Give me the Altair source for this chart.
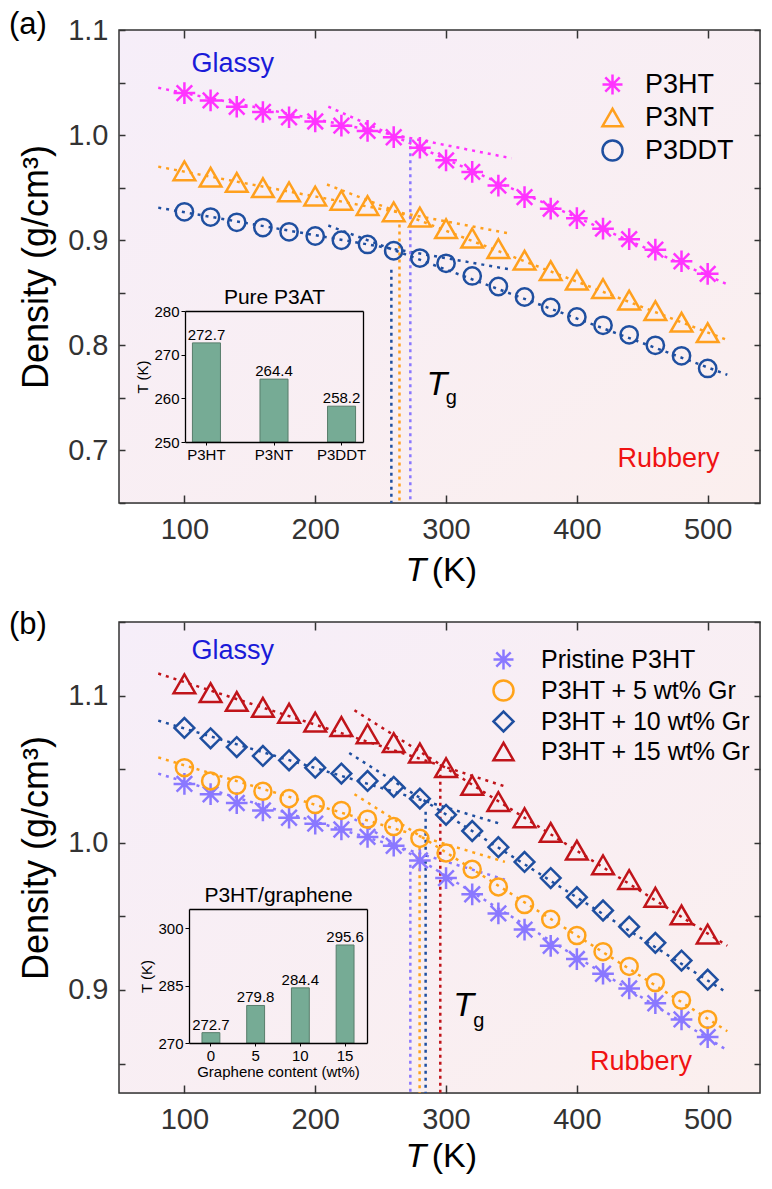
import altair as alt
import pandas as pd

FONT = "Liberation Sans"
ASTERISK = "M-1,0L1,0M0,-1L0,1M-0.72,-0.72L0.72,0.72M-0.72,0.72L0.72,-0.72"

temps = [100, 120, 140, 160, 180, 200, 220, 240, 260, 280, 300,
         320, 340, 360, 380, 400, 420, 440, 460, 480, 500]
x_ticks = [100, 200, 300, 400, 500]

# ---------------- panel (a) data ----------------
a_series = ["P3HT", "P3NT", "P3DDT"]
a_p3ht = [1.040, 1.033, 1.027, 1.022, 1.017, 1.013, 1.009, 1.004, 0.998, 0.988, 0.976,
          0.965, 0.952, 0.941, 0.930, 0.921, 0.911, 0.901, 0.891, 0.880, 0.868]
a_p3nt = [0.966, 0.960, 0.955, 0.950, 0.946, 0.942, 0.938, 0.933, 0.927, 0.922, 0.911,
          0.902, 0.892, 0.881, 0.871, 0.862, 0.854, 0.843, 0.833, 0.822, 0.812]
a_p3ddt = [0.927, 0.922, 0.917, 0.912, 0.908, 0.904, 0.900, 0.896, 0.890, 0.883, 0.878,
           0.866, 0.856, 0.846, 0.836, 0.827, 0.819, 0.810, 0.800, 0.790, 0.778]

a_fit_series = ["P3HT", "P3HT", "P3NT", "P3NT", "P3DDT", "P3DDT"]
a_fit_x1 = [80, 210, 80, 209, 80, 210]
a_fit_y1 = [1.045, 1.027, 0.970, 0.953, 0.931, 0.914]
a_fit_x2 = [350, 515, 350, 515, 350, 515]
a_fit_y2 = [0.978, 0.858, 0.906, 0.805, 0.872, 0.772]

a_tg = [272.7, 264.4, 258.2]
a_tg_top = [0.996, 0.915, 0.872]

a_y_ticks = [0.65, 0.7, 0.75, 0.8, 0.85, 0.9, 0.95, 1.0, 1.05, 1.1]

a_inset_cats = ["P3HT", "P3NT", "P3DDT"]
a_inset_vals = [272.7, 264.4, 258.2]

# ---------------- panel (b) data ----------------
b_series = ["Pristine P3HT", "P3HT + 5 wt% Gr", "P3HT + 10 wt% Gr", "P3HT + 15 wt% Gr"]
b_pristine = a_p3ht
b_gr5 = [1.051, 1.042, 1.039, 1.035, 1.030, 1.026, 1.022, 1.016, 1.011, 1.003, 0.993,
         0.982, 0.970, 0.958, 0.948, 0.937, 0.926, 0.916, 0.905, 0.893, 0.880]
b_gr10 = [1.078, 1.071, 1.065, 1.059, 1.056, 1.051, 1.047, 1.042, 1.038, 1.030, 1.019,
          1.008, 0.997, 0.987, 0.976, 0.963, 0.954, 0.943, 0.932, 0.920, 0.907]
b_gr15 = [1.108, 1.102, 1.096, 1.092, 1.088, 1.082, 1.079, 1.074, 1.068, 1.061, 1.051,
          1.039, 1.028, 1.017, 1.007, 0.995, 0.985, 0.975, 0.963, 0.951, 0.938]

b_fit_series = ["Pristine P3HT", "Pristine P3HT", "P3HT + 5 wt% Gr", "P3HT + 5 wt% Gr",
                "P3HT + 10 wt% Gr", "P3HT + 10 wt% Gr", "P3HT + 15 wt% Gr", "P3HT + 15 wt% Gr"]
b_fit_x1 = [80, 230, 80, 230, 80, 226, 80, 230]
b_fit_y1 = [1.047, 1.016, 1.058, 1.033, 1.083, 1.061, 1.115, 1.090]
b_fit_x2 = [345, 515, 345, 515, 341, 515, 346, 515]
b_fit_y2 = [0.975, 0.859, 0.987, 0.872, 1.013, 0.898, 1.038, 0.930]

b_tg = [272.7, 279.8, 284.4, 295.6]
b_tg_top = [0.985, 0.997, 1.021, 1.051]

b_y_ticks = [0.85, 0.9, 0.95, 1.0, 1.05, 1.1, 1.15]

b_inset_cats = ["0", "5", "10", "15"]
b_inset_vals = [272.7, 279.8, 284.4, 295.6]

# ---------------- styles ----------------
a_colors = ["#ff33ff", "#ffa01e", "#1f4fa0"]
a_tg_colors = ["#8a78ff", "#ffa01e", "#1f4fa0"]
a_shapes = [ASTERISK, "triangle-up", "circle"]
a_sizes = [470, 470, 300]

b_colors = ["#8a78ff", "#ffa31a", "#1f4fa0", "#c0141a"]
b_shapes = [ASTERISK, "circle", "diamond", "triangle-up"]
b_sizes = [470, 290, 390, 470]

W = 641
FRAME = "#333333"
BAR_FILL = "#76ab95"
BAR_STROKE = "#587d6b"
BG = alt.LinearGradient(gradient="linear", x1=0, y1=0, x2=1, y2=1,
                        stops=[alt.GradientStop(color="#f6eef9", offset=0),
                               alt.GradientStop(color="#fbefee", offset=1)])
MAJOR_LABEL = "abs(datum.value*10 - round(datum.value*10)) < 0.001 ? format(datum.value, '.1f') : ''"
TICK_X = {"expr": "-8"}
TICK_Y = {"expr": "-6"}


def long_df(series, cols):
    rows = []
    for s, vals in zip(series, cols):
        for t, v in zip(temps, vals):
            rows.append({"S": s, "T": t, "D": v})
    return pd.DataFrame(rows)


def panel(series, cols, colors, shapes, sizes, fit_s, fx1, fy1, fx2, fy2,
          tgs, tg_tops, tg_colors, ydom, y_ticks, H,
          inset_cats, inset_vals, inset_dom, inset_ticks, inset_box, inset_title,
          inset_xtitle, label, label_y, glassy_pos, rubbery_pos, tg_pos, g_pos,
          legend_xy, legend_font, legend_rowpad, legend_off, xtitle_dy):
    df = long_df(series, cols)
    fit_df = pd.DataFrame({"S": fit_s, "x1": fx1, "y1": fy1, "x2": fx2, "y2": fy2})
    one = pd.DataFrame({"a": [0]})

    xs = alt.Scale(domain=[50, 540], nice=False, zero=False)
    ys = alt.Scale(domain=ydom, nice=False, zero=False)
    cs = alt.Scale(domain=series, range=colors)
    ss = alt.Scale(domain=series, range=shapes)

    x_main = alt.X("T:Q", scale=xs, axis=alt.Axis(
        values=x_ticks, ticks=True, tickSize=TICK_X, tickWidth=1.5, tickColor=FRAME,
        domain=False, grid=False, zindex=2,
        labelFontSize=29, labelColor="#333333", labelPadding=20, title=None, labelFont=FONT))
    y_main = alt.Y("D:Q", scale=ys, axis=alt.Axis(
        values=y_ticks, labelExpr=MAJOR_LABEL, ticks=True, tickSize=TICK_Y, tickWidth=1.5,
        tickColor=FRAME, domain=False, grid=False, zindex=2,
        labelFontSize=29, labelColor="#333333", labelPadding=17, labelFont=FONT,
        title="Density (g/cm³)", titleFontSize=36, titleFontWeight="normal",
        titleColor="black", titleFont=FONT, titlePadding=12))

    leg = alt.Legend(title=None, orient="none", legendX=legend_xy[0], legendY=legend_xy[1],
                     labelFontSize=legend_font, labelFont=FONT, labelColor="black",
                     symbolSize=400, symbolStrokeWidth=2.5, rowPadding=legend_rowpad,
                     labelOffset=legend_off, labelLimit=0, padding=0, zindex=2)

    bg = alt.Chart(one).mark_rect(fill=BG, stroke=FRAME, strokeWidth=1.5).encode(
        opacity=alt.value(1))

    fits = alt.Chart(fit_df).mark_rule(strokeDash=[3, 5], strokeWidth=2.5).encode(
        x=alt.X("x1:Q", scale=xs), y=alt.Y("y1:Q", scale=ys), x2="x2:Q", y2="y2:Q",
        color=alt.Color("S:N", scale=cs, legend=leg))

    layers = [bg, fits]
    for tg, top, col in zip(tgs, tg_tops, tg_colors):
        layers.append(
            alt.Chart(pd.DataFrame({"tg": [tg], "top": [top]}))
            .mark_rule(color=col, strokeDash=[3, 4], strokeWidth=2.5)
            .encode(x=alt.X("tg:Q", scale=xs), y=alt.Y("top:Q", scale=ys), y2=alt.datum(ydom[0])))

    for s, sz in zip(series, sizes):
        layers.append(
            alt.Chart(df).transform_filter(alt.datum.S == s)
            .mark_point(filled=False, strokeWidth=2.5, opacity=1, size=sz)
            .encode(x=x_main, y=y_main,
                    color=alt.Color("S:N", scale=cs, legend=leg),
                    shape=alt.Shape("S:N", scale=ss, legend=leg)))

    def txt(text, pos, **kw):
        return alt.Chart(one).mark_text(text=text, font=FONT, **kw).encode(
            x=alt.datum(pos[0]), y=alt.datum(pos[1]))

    layers.append(txt("Glassy", glassy_pos, fontSize=27, color="#1a1ad8"))
    layers.append(txt("Rubbery", rubbery_pos, fontSize=27, color="#f01212"))
    layers.append(txt("T", tg_pos, fontSize=34, fontStyle="italic", color="black"))
    layers.append(txt("g", g_pos, fontSize=20, color="black"))
    # x axis title: italic T + (K)
    layers.append(alt.Chart(one).mark_text(text="T", font=FONT, fontSize=34, fontStyle="italic",
                                           align="left", baseline="middle", color="black")
                  .encode(x=alt.datum(269), y=alt.value(H + xtitle_dy)))
    layers.append(alt.Chart(one).mark_text(text="(K)", font=FONT, fontSize=34,
                                           align="left", baseline="middle", color="black")
                  .encode(x=alt.datum(289), y=alt.value(H + xtitle_dy)))
    # panel label
    layers.append(alt.Chart(one).mark_text(text=label, font=FONT, fontSize=31,
                                           align="left", baseline="middle", color="black")
                  .encode(x=alt.value(-110), y=alt.value(label_y)))

    main = alt.layer(*layers)

    # mirror ticks on top and right edges
    mirror = alt.Chart(df).mark_point(opacity=0).encode(
        x=alt.X("T:Q", scale=xs, axis=alt.Axis(
            orient="top", values=x_ticks, labels=False, domain=False, grid=False,
            tickSize=TICK_X, tickWidth=1.5, tickColor=FRAME, title=None, zindex=2,
            minExtent=0, maxExtent=0)),
        y=alt.Y("D:Q", scale=ys, axis=alt.Axis(
            orient="right", values=y_ticks, labels=False, domain=False, grid=False,
            tickSize=TICK_Y, tickWidth=1.5, tickColor=FRAME, title=None, zindex=2,
            minExtent=0, maxExtent=0)))

    # inset
    x0, x1, ytop, ybot, pin, pout = inset_box
    idf = pd.DataFrame({"cat": inset_cats, "val": inset_vals})
    ixs = alt.Scale(domain=inset_cats, range=[x0, x1], paddingInner=pin, paddingOuter=pout)
    iys = alt.Scale(domain=inset_dom, range=[ybot, ytop], nice=False, zero=False)
    ix = alt.X("cat:N", sort=inset_cats, scale=ixs, axis=alt.Axis(
        orient="bottom", offset=-(H - ybot), labelAngle=0, labelFontSize=15, labelColor="black",
        labelFont=FONT, labelPadding=2, tickSize=3, tickColor="black", domain=True,
        domainColor="black", domainWidth=1.3, grid=False, zindex=2,
        title=inset_xtitle, titleFontSize=15, titleFontWeight="normal", titleFont=FONT,
        titleColor="black", titlePadding=1))
    iy = alt.Y("val:Q", scale=iys, axis=alt.Axis(
        orient="left", offset=-x0, values=inset_ticks, labelFontSize=15, labelColor="black",
        labelFont=FONT, labelPadding=2, tickSize=4, tickColor="black", domain=True,
        domainColor="black", domainWidth=1.3, grid=False, zindex=2,
        title="T (K)", titleFontSize=15, titleFontWeight="normal", titleFont=FONT,
        titleColor="black", titlePadding=3))
    bars = alt.Chart(idf).mark_bar(color=BAR_FILL, stroke=BAR_STROKE, strokeWidth=1).encode(
        x=ix, y=iy, y2=alt.datum(inset_dom[0]))
    blabels = alt.Chart(idf).mark_text(dy=-8, fontSize=15, font=FONT, color="black").encode(
        x=alt.X("cat:N", sort=inset_cats, scale=ixs), y=alt.Y("val:Q", scale=iys),
        text=alt.Text("val:Q", format=".1f"))
    inset_main = alt.layer(bars, blabels)
    inset_frame = alt.Chart(idf).mark_point(opacity=0).encode(
        x=alt.X("cat:N", sort=inset_cats, scale=ixs, axis=alt.Axis(
            orient="top", offset=-ytop, labels=False, ticks=False, domain=True, domainColor="black",
            domainWidth=1.3, grid=False, title=inset_title, titleFontSize=21, zindex=2,
            titleFontWeight="normal", titleFont=FONT, titleColor="black", titlePadding=4)),
        y=alt.Y("val:Q", scale=iys, axis=alt.Axis(
            orient="right", offset=-(W - x1), labels=False, ticks=False, domain=True,
            domainColor="black", domainWidth=1.3, grid=False, title=None, zindex=2,
            minExtent=0, maxExtent=0)))

    return alt.layer(main, mirror, inset_main, inset_frame).resolve_scale(
        x="independent", y="independent").properties(width=W, height=H)


pa = panel(a_series, [a_p3ht, a_p3nt, a_p3ddt], a_colors, a_shapes, a_sizes,
           a_fit_series, a_fit_x1, a_fit_y1, a_fit_x2, a_fit_y2,
           a_tg, a_tg_top, a_tg_colors, [0.65, 1.1], a_y_ticks, 473,
           a_inset_cats, a_inset_vals, [250, 280], [250, 260, 270, 280],
           (66, 244, 281, 412, 0.585, 0.11), "Pure P3AT", None, "(a)", -5,
           (137, 1.068), (470, 0.692), (293, 0.762), (304, 0.750),
           (480, 41), 27, 3, 19, 68)

pb = panel(b_series, [b_pristine, b_gr5, b_gr10, b_gr15], b_colors, b_shapes, b_sizes,
           b_fit_series, b_fit_x1, b_fit_y1, b_fit_x2, b_fit_y2,
           b_tg, b_tg_top, b_colors, [0.83, 1.15], b_y_ticks, 471,
           b_inset_cats, b_inset_vals, [270, 305], [270, 285, 300],
           (70, 248, 287, 421, 0.6, 0.29), "P3HT/graphene", "Graphene content (wt%)", "(b)", 3,
           (137, 1.130), (449, 0.851), (313.5, 0.889), (325, 0.879),
           (372, 25), 25, 0, 25, 64)

chart = alt.vconcat(pa, pb, spacing=19).resolve_scale(
    x="independent", y="independent", color="independent", shape="independent"
).configure_view(stroke=None).configure(background="white").properties(padding=0)

chart.save("out.html", embed_options={"renderer": "svg", "actions": False})
